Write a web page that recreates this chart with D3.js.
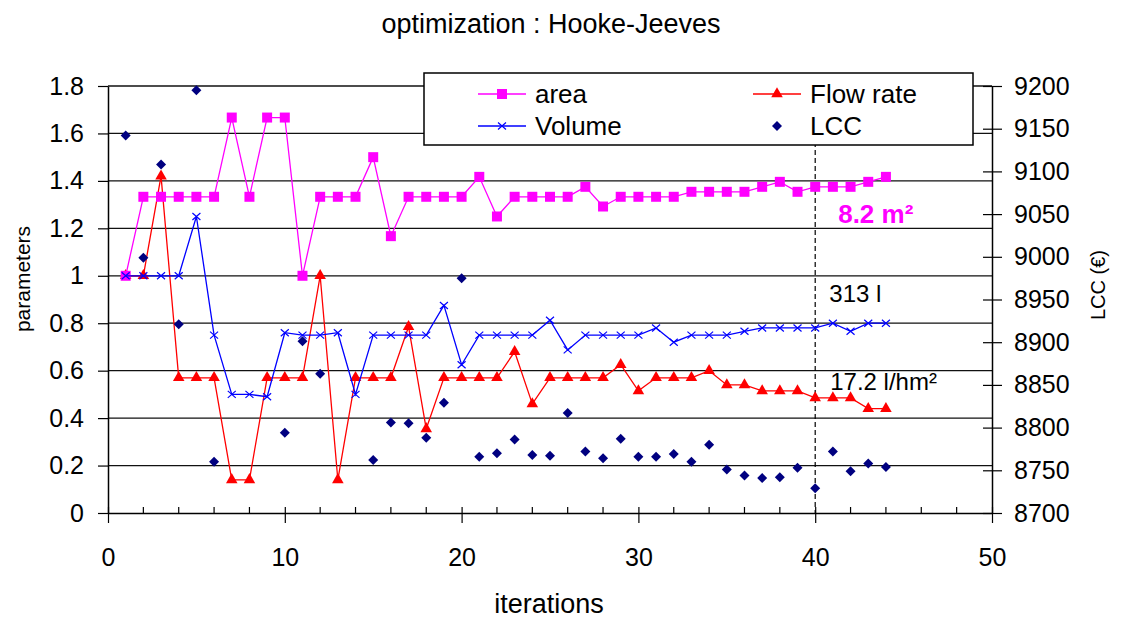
<!DOCTYPE html>
<html><head><meta charset="utf-8">
<script src="https://cdn.jsdelivr.net/npm/d3@7"></script>
<style>
body{margin:0;background:#fff;}
text{font-family:"Liberation Sans",Arial,sans-serif;fill:#000;}
</style>
</head><body>
<svg id="c" width="1122" height="619"></svg>
<script>
// ---- data ----
const iterations = [1,2,3,4,5,6,7,8,9,10,11,12,13,14,15,16,17,18,19,20,21,22,23,24,25,26,27,28,29,30,31,32,33,34,35,36,37,38,39,40,41,42,43,44];
const area = [1.0,1.333,1.333,1.333,1.333,1.333,1.667,1.333,1.667,1.667,1.0,1.333,1.333,1.333,1.5,1.167,1.333,1.333,1.333,1.333,1.417,1.25,1.333,1.333,1.333,1.333,1.375,1.292,1.333,1.333,1.333,1.333,1.354,1.354,1.354,1.354,1.375,1.396,1.354,1.375,1.375,1.375,1.396,1.417];
const volume = [1.0,1.0,1.0,1.0,1.25,0.75,0.5,0.5,0.49,0.76,0.75,0.75,0.76,0.5,0.75,0.75,0.75,0.75,0.875,0.625,0.75,0.75,0.75,0.75,0.8125,0.6875,0.75,0.75,0.75,0.75,0.78,0.72,0.75,0.75,0.75,0.766,0.78,0.78,0.78,0.78,0.8,0.766,0.8,0.8];
const flowRate = [1.0,1.0,1.42,0.57,0.57,0.57,0.14,0.14,0.57,0.57,0.57,1.0,0.14,0.57,0.57,0.57,0.785,0.355,0.57,0.57,0.57,0.57,0.68,0.46,0.57,0.57,0.57,0.57,0.625,0.515,0.57,0.57,0.57,0.6,0.54,0.54,0.515,0.515,0.515,0.485,0.485,0.485,0.44,0.44];
const lcc = [9142,8999,9108,8921,9195,8760,null,null,null,8794,8901,8863,null,null,8762,8806,8805,8788,8829,8975,8766,8770,8786,8768,8767,8817,8772,8764,8787,8766,8766,8769,8760,8780,8751,8744,8741,8742,8753,8729,8772,8749,8758,8754];
const seriesNames = ["area","Flow rate","Volume","LCC"];
const xTicks = [0,10,20,30,40,50];
const xMinorTicks = [2,4,6,8,12,14,16,18,22,24,26,28,32,34,36,38,42,44,46,48];
const yTicks = [0,0.2,0.4,0.6,0.8,1,1.2,1.4,1.6,1.8];
const y2Ticks = [8700,8750,8800,8850,8900,8950,9000,9050,9100,9150,9200];
const markerIteration = 40;
const annotations = [
  {text:"8.2 m²", xv:41.3, yv:1.221, color:"#ff00ff", bold:true, size:26},
  {text:"313 l", xv:40.8, yv:0.888, color:"#000", bold:false, size:24},
  {text:"17.2 l/hm²", xv:40.85, yv:0.52, color:"#000", bold:false, size:24}
];

// ---- scales ----
const svg = d3.select("#c");
const x = d3.scaleLinear().domain([0,50]).range([108,992]);
const y = d3.scaleLinear().domain([0,1.8]).range([513,86]);
const y2 = d3.scaleLinear().domain([8700,9200]).range([513,86]);

// gridlines
svg.append("g").selectAll("line").data(yTicks.filter(d=>d>0)).join("line")
  .attr("x1",x(0)).attr("x2",x(50))
  .attr("y1",d=>y(d)).attr("y2",d=>y(d))
  .attr("stroke","#111").attr("stroke-width",1.3);

// dashed marker line
svg.append("line").attr("x1",x(markerIteration)).attr("x2",x(markerIteration))
  .attr("y1",y(1.8)).attr("y2",y(0))
  .attr("stroke","#000").attr("stroke-width",1.2).attr("stroke-dasharray","5,3");

// axes
const gl = svg.append("g").attr("transform",`translate(${x(0)},0)`)
  .call(d3.axisLeft(y).tickValues(yTicks).tickSize(10).tickPadding(14).tickSizeOuter(0).tickFormat(d=>String(d)));
const gr = svg.append("g").attr("transform",`translate(${x(50)},0)`)
  .call(d3.axisRight(y2).tickValues(y2Ticks).tickSize(10).tickPadding(12).tickSizeOuter(0).tickFormat(d=>String(d)));
gr.selectAll(".tick line").attr("x1",-9);
const gb = svg.append("g").attr("transform",`translate(0,${y(0)})`)
  .call(d3.axisBottom(x).tickValues(xTicks).tickSize(10).tickSizeOuter(0).tickFormat(d=>String(d)));
gb.selectAll(".tick line").attr("y1",-6);
gb.selectAll(".tick text").attr("y",53).attr("dy",null);
gb.append("g").selectAll("line").data(xMinorTicks).join("line")
  .attr("x1",d=>x(d)).attr("x2",d=>x(d)).attr("y1",-6).attr("y2",0).attr("stroke","#000").attr("stroke-width",1.2);
[gl,gr,gb].forEach(g=>{
  g.select(".domain").attr("stroke","#000").attr("stroke-width",1.5);
  g.selectAll(".tick line").attr("stroke","#000").attr("stroke-width",1.2);
  g.selectAll(".tick text").attr("font-size",25).attr("fill","#000").style("font-family","'Liberation Sans',Arial,sans-serif");
});

// line generator
const lineGen = d3.line().x((d,i)=>x(iterations[i])).y(d=>y(d));

const sq = d3.symbol(d3.symbolSquare, 100);
const tri = d3.symbol(d3.symbolTriangle, 58);
const dia = d3.symbol(d3.symbolSquare, 50);
const xPath = "M-4,-3.5L4,3.5M-4,3.5L4,-3.5";

// Flow rate
svg.append("path").datum(flowRate).attr("d",lineGen).attr("fill","none").attr("stroke","#ff0000").attr("stroke-width",1.3);
svg.append("g").selectAll("path").data(flowRate).join("path")
  .attr("d",tri).attr("transform",(d,i)=>`translate(${x(iterations[i])},${y(d)})`).attr("fill","#ff0000");
// area
svg.append("path").datum(area).attr("d",lineGen).attr("fill","none").attr("stroke","#ff00ff").attr("stroke-width",1.3);
svg.append("g").selectAll("path").data(area).join("path")
  .attr("d",sq).attr("transform",(d,i)=>`translate(${x(iterations[i])},${y(d)})`).attr("fill","#ff00ff");
// Volume
svg.append("path").datum(volume).attr("d",lineGen).attr("fill","none").attr("stroke","#0000ff").attr("stroke-width",1.3);
svg.append("g").selectAll("path").data(volume).join("path")
  .attr("d",xPath).attr("transform",(d,i)=>`translate(${x(iterations[i])},${y(d)})`).attr("fill","none").attr("stroke","#0000ff").attr("stroke-width",1.2);
// LCC
svg.append("g").selectAll("path").data(lcc.map((v,i)=>({v,i})).filter(d=>d.v!==null)).join("path")
  .attr("d",dia).attr("transform",d=>`translate(${x(iterations[d.i])},${y2(d.v)}) rotate(45)`).attr("fill","#000080");

// annotations
svg.append("g").selectAll("text").data(annotations).join("text")
  .attr("x",d=>x(d.xv)).attr("y",d=>y(d.yv)).text(d=>d.text)
  .attr("font-size",d=>d.size).attr("font-weight",d=>d.bold?"bold":"normal")
  .style("fill",d=>d.color);

// legend
const lg = svg.append("g");
lg.append("rect").attr("x",424).attr("y",73).attr("width",549).attr("height",72)
  .attr("fill","#fff").attr("stroke","#000").attr("stroke-width",1.5);
const legendItems = [
  {name:seriesNames[0], lx:478, ly:94, color:"#ff00ff", line:true, mark:"sq"},
  {name:seriesNames[1], lx:753, ly:94, color:"#ff0000", line:true, mark:"tri"},
  {name:seriesNames[2], lx:478, ly:126, color:"#0000ff", line:true, mark:"x"},
  {name:seriesNames[3], lx:753, ly:126, color:"#000080", line:false, mark:"dia"}
];
legendItems.forEach(it=>{
  if(it.line) lg.append("line").attr("x1",it.lx).attr("x2",it.lx+48).attr("y1",it.ly).attr("y2",it.ly).attr("stroke",it.color).attr("stroke-width",1.3);
  const cx = it.lx+24;
  if(it.mark==="sq") lg.append("path").attr("d",sq).attr("transform",`translate(${cx},${it.ly})`).attr("fill",it.color);
  if(it.mark==="tri") lg.append("path").attr("d",tri).attr("transform",`translate(${cx},${it.ly})`).attr("fill",it.color);
  if(it.mark==="x") lg.append("path").attr("d",xPath).attr("transform",`translate(${cx},${it.ly})`).attr("fill","none").attr("stroke",it.color).attr("stroke-width",1.2);
  if(it.mark==="dia") lg.append("path").attr("d",dia).attr("transform",`translate(${cx},${it.ly}) rotate(45)`).attr("fill",it.color);
  lg.append("text").attr("x",it.lx+57).attr("y",it.ly+9).attr("font-size",26).text(it.name);
});

// titles
svg.append("text").attr("x",551).attr("y",33).attr("text-anchor","middle").attr("font-size",27).text("optimization : Hooke-Jeeves");
svg.append("text").attr("x",549).attr("y",613).attr("text-anchor","middle").attr("font-size",27).text("iterations");
svg.append("text").attr("transform","translate(30,279) rotate(-90)").attr("text-anchor","middle").attr("font-size",21).text("parameters");
svg.append("text").attr("transform","translate(1105,285) rotate(-90)").attr("text-anchor","middle").attr("font-size",20).text("LCC (€)");
</script>
</body></html>
